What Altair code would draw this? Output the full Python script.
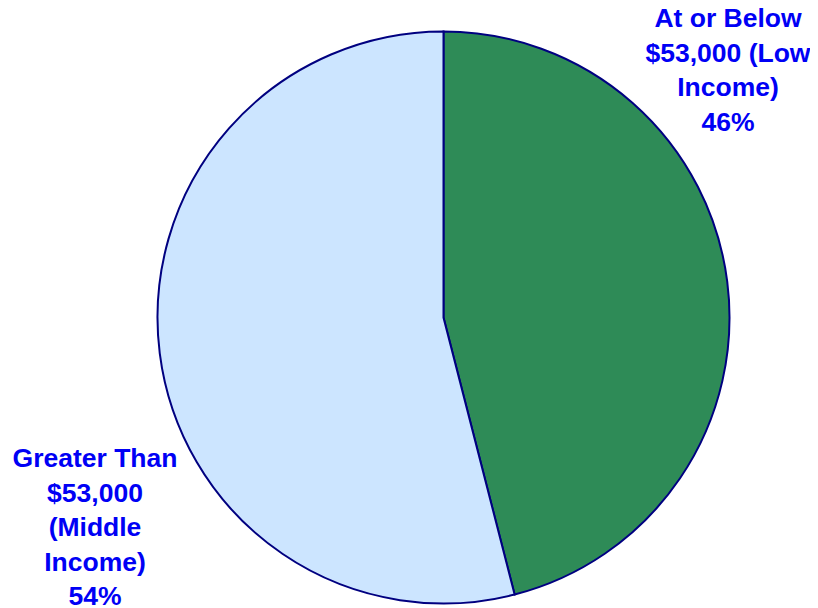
import altair as alt
import pandas as pd

categories = ["At or Below\n$53,000 (Low\nIncome)", "Greater Than\n$53,000\n(Middle\nIncome)"]
shares = [46, 54]
colors = ["#2E8B57", "#CCE5FF"]

df = pd.DataFrame({
    "cat": categories,
    "share": shares,
    "order": [0, 1],
    "label": [c + "\n" + str(v) + "%" for c, v in zip(categories, shares)],
})

cx, cy, r = 435.5, 309.5, 286

pie = alt.Chart(df).mark_arc(
    stroke="#000080", strokeWidth=2, radius=r
).encode(
    theta=alt.Theta("share:Q", stack=True),
    order=alt.Order("order:Q"),
    color=alt.Color("cat:N", scale=alt.Scale(domain=categories, range=colors), legend=None),
    x=alt.value(cx),
    y=alt.value(cy),
)

text_style = dict(font="Liberation Sans", fontWeight="bold", fontSize=26.5,
                  color="#0000F5", lineBreak="\n", lineHeight=34.5,
                  align="center", baseline="middle")

t1 = alt.Chart(df).transform_filter(alt.datum.order == 0).mark_text(
    x=720, y=11, **text_style
).encode(text="label:N")

t2 = alt.Chart(df).transform_filter(alt.datum.order == 1).mark_text(
    x=87, y=451, **text_style
).encode(text="label:N")

chart = alt.layer(pie, t1, t2).properties(
    width=802, height=598, padding=0,
    autosize=alt.AutoSizeParams(type="none")
).configure_view(stroke=None)

chart.save("out.html", embed_options={"renderer": "svg", "actions": False})
